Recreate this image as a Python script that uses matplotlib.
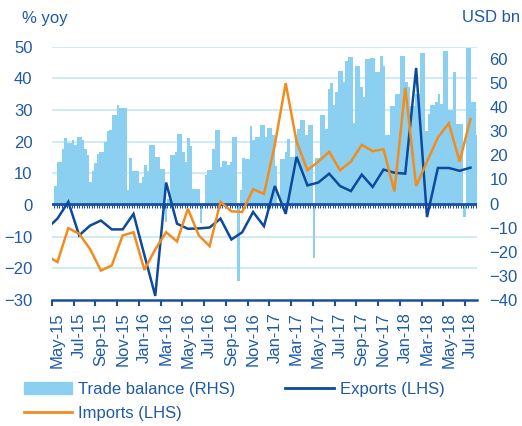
import numpy as np
import matplotlib.pyplot as plt

plt.rcParams['font.family'] = ['Liberation Sans', 'DejaVu Sans']
plt.rcParams['font.size'] = 12

# monthly series (Apr-15 is only partly visible at the left edge)
months = ['Apr-15', 'May-15', 'Jun-15', 'Jul-15', 'Aug-15', 'Sep-15', 'Oct-15', 'Nov-15', 'Dec-15',
          'Jan-16', 'Feb-16', 'Mar-16', 'Apr-16', 'May-16', 'Jun-16', 'Jul-16', 'Aug-16', 'Sep-16',
          'Oct-16', 'Nov-16', 'Dec-16', 'Jan-17', 'Feb-17', 'Mar-17', 'Apr-17', 'May-17', 'Jun-17',
          'Jul-17', 'Aug-17', 'Sep-17', 'Oct-17', 'Nov-17', 'Dec-17', 'Jan-18', 'Feb-18', 'Mar-18',
          'Apr-18', 'May-18', 'Jun-18', 'Jul-18']

exports = [-7.5, -4.3, 1.0, -9.6, -6.5, -4.9, -7.7, -7.7, -2.8, -15.8,
           -28.7, 7.1, -5.9, -7.5, -7.4, -7.1, -4.3, -10.9, -8.6, -2.2,
           -6.7, 6.0, -2.8, 15.2, 6.2, 7.1, 9.9, 6.0, 4.4, 9.6,
           5.7, 11.2, 10.2, 9.9, 43.3, -3.8, 11.7, 11.7, 10.8, 11.8]

imports = [-16, -18, -7.3, -9.1, -13.9, -20.7, -19.1, -9.6, -8.6, -20.5,
           -14, -8.6, -11.5, -1.2, -9.6, -13, 1.0, -2.0, -2.2, 5.0,
           3.5, 19, 38.5, 20, 11, 13.7, 16.8, 11, 13.7, 19,
           17, 17.6, 4.3, 37.1, 6.0, 13.7, 21.3, 25.8, 13.7, 27.2]

# weekly trade balance, USD bn
trade_balance = [7.2, 17, 17, 22.8, 27.3, 25.1, 25.1, 26.3, 24.2, 27.6,
                 27.6, 26.5, 22.8, 20, 9, 13.5, 16.8, 20.7, 21.5, 21.5,
                 25.5, 29.9, 30.3, 36.5, 36.5, 40.7, 39.7, 39.7, 39.7, 5.5,
                 18.9, 13.5, 13.5, 13.5, 8.6, 10.8, 15.9, 13.5, 24.4, 24.4,
                 19.3, 19.3, 14.5, 14.5, -7.5, 2, 20, 20, 21.5, 29,
                 29, 21.5, 17.2, 27.2, 24, 6.2, 6.2, 6.2, -8.2, 0,
                 11.7, 13.8, 13.8, 22.8, 30.3, 30.3, 15.2, 17.6, 17.6, 16,
                 17.2, 27.6, 27.6, -32, 5.5, 19, 18.4, 18.4, 32, 26.5,
                 27.6, 27.6, 32.4, 32.4, 27.6, 31.4, 31.4, 28.5, 15.5, 0,
                 18.6, 18.6, 21.4, 26.9, 19.3, 19.3, 28.3, 31, 34.5, 34.5,
                 28.3, 32.4, 32.4, -22.7, 19, 19, 36.5, 36.5, 31, 47.6,
                 49.9, 40.7, 46.2, 54.8, 54.8, 50.3, 59, 60.6, 60.6, 33.5,
                 57.2, 57.2, 48.2, 44, 60, 60, 60.5, 60.5, 54.5, 54.5,
                 61.3, 57.2, 28.5, 28.5, 40.5, 40.5, 45.5, 45.5, 61.3, 61.3,
                 50.5, 48.2, 40.6, 40.6, 45.5, 45.5, 62.5, 62.5, 30, 37,
                 40.7, 40.7, 42, 45.5, 41.4, 63.4, 63.4, 38.6, 38.6, 54.4,
                 33, 33, 33, -5.8, 64.5, 64.5, 42, 42, 28.3]

txt_blue = '#1F5AA8'
axis_blue = '#1C4F9E'
bar_col = '#8CD0F1'
exp_col = '#0C4A9E'
imp_col = '#F28C1E'
grid_col = '#C4E8F8'

xm = np.arange(len(months)) - 1
week = 12 / 52
xw = -0.3 + np.arange(len(trade_balance)) * week

fig = plt.figure(figsize=(5.22, 4.26), dpi=100)
ax = fig.add_axes([52 / 522, 126 / 426, 425 / 522, 253.3 / 426])
ax2 = ax.twinx()   # bars, RHS
ax3 = ax.twinx()   # lines, LHS scale

ax.set_xlim(-0.49, 38.6)
ax.set_ylim(-30, 50)
ax3.set_ylim(-30, 50)
ax2.set_ylim(-40, 65)

# gridlines
for v in range(-20, 51, 10):
    if v != 0:
        ax.axhline(v, color=grid_col, lw=1.2, zorder=0)

# bars
ax2.bar(xw, trade_balance, width=week, align='edge', color=bar_col, linewidth=0)
ax2.axhline(0, color=axis_blue, lw=2)
ax2.vlines(xw, -1.7, 0, color=axis_blue, lw=0.8)

# lines
ax3.plot(xm, exports, color=exp_col, lw=1.8, solid_joinstyle='miter')
ax3.plot(xm, imports, color=imp_col, lw=1.8, solid_joinstyle='miter')

for a in (ax, ax2, ax3):
    for s in a.spines.values():
        s.set_visible(False)
ax.spines['bottom'].set_visible(True)
ax.spines['bottom'].set_color(axis_blue)
ax.spines['bottom'].set_linewidth(1.8)

ax.set_yticks(range(-30, 51, 10))
ax.tick_params(axis='y', length=0, pad=14, labelcolor=txt_blue, labelsize=12)
ax2.set_yticks(range(-40, 61, 10))
ax2.tick_params(axis='y', length=0, pad=9, labelcolor=txt_blue, labelsize=12)
for lab in ax2.get_yticklabels():
    lab.set_horizontalalignment('left')
ax3.set_yticks([])

ax.set_xticks(xm[1::2])
ax.set_xticklabels(months[1::2], rotation=90)
ax.set_xticks(xm[1::2] - 0.5, minor=True)
ax.tick_params(axis='x', which='major', length=0, pad=9, labelcolor=txt_blue, labelsize=12)
ax.tick_params(axis='x', which='minor', length=4, width=1.5, color=axis_blue)

fig.text(22 / 522, 1 - 18 / 426, '% yoy', color=txt_blue, fontsize=12, va='center', ha='left')
fig.text(520 / 522, 1 - 18 / 426, 'USD bn', color=txt_blue, fontsize=12, va='center', ha='right')

h_bar = plt.Rectangle((0, 0), 1, 1, color=bar_col)
h_exp = plt.Line2D([], [], color=exp_col, lw=2)
h_imp = plt.Line2D([], [], color=imp_col, lw=2)
leg = fig.legend([h_bar, h_imp, h_exp], ['Trade balance (RHS)', 'Imports (LHS)', 'Exports (LHS)'],
                 ncol=2, loc='upper left', bbox_to_anchor=(24 / 522, 1 - 382 / 426),
                 frameon=False, borderpad=0, borderaxespad=0, handlelength=2.9,
                 handletextpad=0.35, columnspacing=3.0, labelspacing=0.55, fontsize=12)
for t in leg.get_texts():
    t.set_color(txt_blue)

fig.savefig('out.png', dpi=100)
